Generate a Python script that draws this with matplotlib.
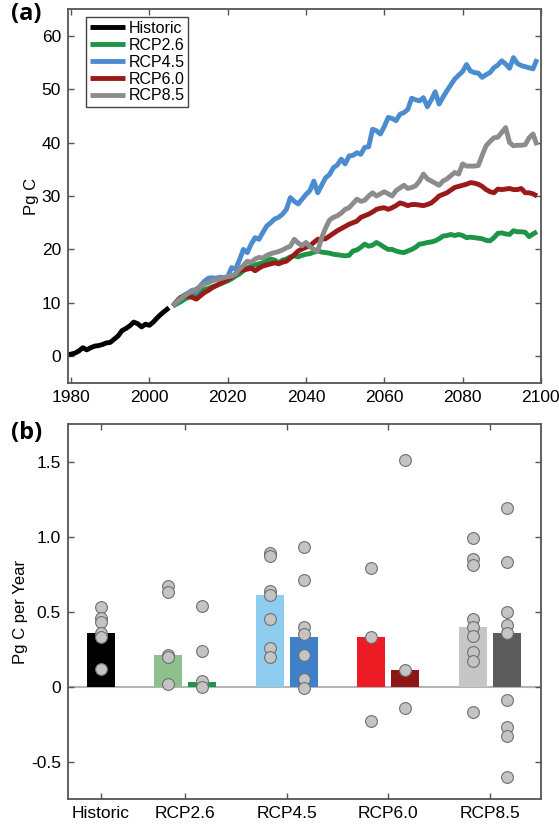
import numpy as np
import matplotlib
matplotlib.use("Agg")
import matplotlib.pyplot as plt

plt.rcParams['font.family'] = ['Liberation Sans', 'DejaVu Sans']

# ---- panel (a): cumulative carbon, Pg C ----
hist_start = 1979
historic = [0.3, 0.4, 0.6, 1.0, 1.6, 1.2, 1.6, 1.9, 2.0, 2.2, 2.5, 2.6, 3.2, 3.8,
            4.8, 5.2, 5.7, 6.4, 6.1, 5.5, 6.0, 5.8, 6.4, 7.2, 7.9, 8.5, 9.1]

rcp_start = 2006
rcp26 = [9.4, 9.8, 10.2, 10.7, 11.0, 11.3, 11.6, 12.0, 12.5, 12.7, 13.0, 13.2, 13.5, 13.8,
         14.1, 14.5, 15.0, 15.4, 16.0, 16.6, 16.9, 17.1, 17.3, 17.5, 17.9, 18.2, 18.0, 17.5,
         18.0, 18.2, 18.6, 18.8, 18.6, 18.9, 19.1, 19.2, 19.5, 19.7, 19.5, 19.4, 19.3, 19.1,
         19.0, 18.9, 18.8, 18.9, 19.7, 19.9, 20.4, 21.0, 20.6, 20.8, 21.3, 20.9, 20.4, 20.0,
         20.0, 19.7, 19.5, 19.4, 19.7, 20.0, 20.4, 21.0, 21.1, 21.3, 21.4, 21.6, 22.0, 22.5,
         22.6, 22.8, 22.6, 22.8, 22.6, 22.2, 22.3, 22.2, 22.1, 22.0, 21.7, 21.6, 22.2, 23.0,
         23.1, 22.9, 22.8, 23.5, 23.3, 23.3, 23.2, 22.4, 22.9, 23.3]
rcp45 = [9.4, 10.3, 11.0, 11.5, 11.9, 12.4, 12.0, 13.2, 14.0, 14.6, 14.7, 14.6, 14.8, 14.7,
         14.9, 16.6, 16.3, 18.0, 20.0, 19.4, 21.0, 22.2, 21.9, 23.2, 24.4, 25.0, 25.7, 26.0,
         26.6, 27.5, 29.7, 29.0, 28.5, 29.4, 30.3, 31.0, 32.8, 30.6, 32.0, 33.4, 34.0, 35.3,
         35.8, 36.9, 36.0, 37.5, 37.6, 38.1, 37.8, 39.1, 39.2, 42.5, 42.2, 41.6, 43.0, 44.7,
         44.5, 44.1, 45.3, 45.6, 46.2, 48.3, 48.0, 47.8, 48.4, 46.7, 48.0, 49.5, 47.2, 48.5,
         49.7, 50.8, 51.9, 52.6, 53.3, 54.6, 53.4, 53.1, 53.0, 52.2, 52.7, 53.1, 54.0, 54.5,
         55.3, 54.7, 53.9, 55.9, 54.8, 54.4, 54.2, 54.0, 53.8, 55.6]
rcp60 = [9.4, 10.3, 11.0, 11.2, 11.3, 11.0, 10.7, 11.3, 11.9, 12.3, 12.8, 13.2, 13.6, 14.0,
         14.4, 14.8, 15.4, 16.0, 16.2, 16.3, 16.5, 16.0, 16.5, 16.9, 17.1, 17.3, 17.5, 17.3,
         17.6, 17.8, 18.4, 19.0, 19.7, 20.1, 20.4, 20.7, 21.3, 21.9, 21.9, 22.0, 22.5, 23.0,
         23.5, 23.9, 24.3, 24.7, 25.0, 25.3, 26.0, 26.3, 26.6, 27.0, 27.5, 27.7, 27.8, 27.5,
         27.8, 28.2, 28.7, 28.5, 28.2, 28.4, 28.4, 28.3, 28.2, 28.4, 28.7, 29.3, 30.0, 30.3,
         30.6, 31.1, 31.6, 31.8, 32.0, 32.2, 32.5, 32.4, 32.2, 31.8, 31.2, 30.8, 30.6, 31.3,
         31.2, 31.3, 31.4, 31.2, 31.2, 31.4, 30.6, 30.6, 30.4, 30.0]
rcp85 = [9.4, 10.2, 10.8, 11.3, 11.8, 12.2, 12.6, 13.1, 13.5, 13.8, 14.1, 14.3, 14.5, 14.7,
         14.9, 15.0, 15.4, 16.3, 17.0, 17.8, 17.6, 18.2, 18.5, 18.4, 18.9, 19.2, 19.4, 19.6,
         19.9, 20.3, 20.6, 21.9, 21.2, 20.7, 21.3, 20.5, 20.0, 19.7, 22.2, 24.0, 25.5, 26.0,
         26.3, 26.8, 27.5, 27.8, 28.6, 29.4, 29.0, 29.2, 30.0, 30.6, 30.0, 30.4, 30.8, 30.4,
         30.0, 31.0, 31.5, 32.0, 31.4, 31.6, 31.9, 32.8, 34.1, 33.2, 32.8, 32.4, 32.0, 32.8,
         33.2, 33.8, 34.4, 34.1, 36.0, 35.6, 35.6, 35.6, 35.7, 37.6, 39.4, 40.2, 40.9, 41.0,
         41.9, 42.8, 40.0, 39.4, 39.5, 39.5, 39.6, 40.9, 41.6, 39.5]

# ---- panel (b): rate, Pg C per year ----
groups = ['Historic', 'RCP2.6', 'RCP4.5', 'RCP6.0', 'RCP8.5']
hist_bar = 0.36
hist_pts = [0.53, 0.46, 0.43, 0.36, 0.33, 0.12]
early_bars = [0.21, 0.61, 0.33, 0.40]
late_bars = [0.03, 0.33, 0.11, 0.36]
early_pts = [[0.67, 0.63, 0.21, 0.20, 0.02],
             [0.89, 0.87, 0.64, 0.61, 0.45, 0.26, 0.20],
             [0.79, 0.33, -0.23],
             [0.99, 0.85, 0.81, 0.45, 0.40, 0.34, 0.23, 0.17, -0.17]]
late_pts = [[0.54, 0.24, 0.04, 0.0],
            [0.93, 0.71, 0.40, 0.35, 0.21, 0.05, -0.01],
            [1.51, 0.11, -0.14],
            [1.19, 0.83, 0.50, 0.41, 0.36, -0.09, -0.27, -0.33, -0.60]]

line_colors = {'Historic': 'black', 'RCP2.6': '#1e9446', 'RCP4.5': '#4a8ccf',
               'RCP6.0': '#9a1a1a', 'RCP8.5': '#8c8c8c'}
light_cols = ['#8cc08c', '#8ecdf0', '#ed1c24', '#c6c6c6']
dark_cols = ['#1e9446', '#3f80c8', '#8e1616', '#5c5c5c']

fig = plt.figure(figsize=(5.59, 8.24), dpi=100)
ax1 = fig.add_axes([0.1216, 0.5352, 0.846, 0.4539])
ax2 = fig.add_axes([0.1216, 0.0303, 0.846, 0.4551])

lw = 3.5
ax1.plot(hist_start + np.arange(len(historic)), historic, color=line_colors['Historic'], lw=lw,
         label='Historic', solid_capstyle='butt')
for name, ser in [('RCP2.6', rcp26), ('RCP4.5', rcp45), ('RCP6.0', rcp60), ('RCP8.5', rcp85)]:
    ax1.plot(rcp_start + np.arange(len(ser)), ser, color=line_colors[name], lw=lw, label=name,
             solid_capstyle='butt')

ax1.set_xlim(1979.2, 2100)
ax1.set_ylim(-5, 65)
ax1.set_xticks(np.arange(1980, 2101, 20))
ax1.set_yticks(np.arange(0, 61, 10))
ax1.set_ylabel('Pg C', fontsize=12, labelpad=2)
leg = ax1.legend(loc='upper left', bbox_to_anchor=(0.038, 0.979), borderaxespad=0,
                 fontsize=11.5, handlelength=2.2, handletextpad=0.2, labelspacing=0.12,
                 borderpad=0.25, fancybox=False, framealpha=1)
leg.get_frame().set_edgecolor('#444444')
leg.get_frame().set_linewidth(1.0)
for h in leg.get_lines():
    h.set_linewidth(3.5)

# bar panel
centers = [1.0, 1.83, 2.83, 3.83, 4.83]
off = 0.167
width = 0.276
ax2.axhline(0, color='#b5b5b5', lw=1.5, zorder=1)
ax2.bar(centers[0], hist_bar, width=width, color='black', zorder=2)
mk = dict(marker='o', ms=8.5, mfc='#c4c4c4', mec='#6f6f6f', mew=0.8, ls='none', zorder=3)
ax2.plot([centers[0]] * len(hist_pts), hist_pts, **mk)
for i in range(4):
    xc = centers[i + 1]
    ax2.bar(xc - off, early_bars[i], width=width, color=light_cols[i], zorder=2)
    ax2.bar(xc + off, late_bars[i], width=width, color=dark_cols[i], zorder=2)
    ax2.plot([xc - off] * len(early_pts[i]), early_pts[i], **mk)
    ax2.plot([xc + off] * len(late_pts[i]), late_pts[i], **mk)

ax2.set_xlim(0.675, 5.335)
ax2.set_ylim(-0.75, 1.75)
ax2.set_xticks(centers)
ax2.set_xticklabels(groups)
ax2.set_yticks([-0.5, 0, 0.5, 1.0, 1.5])
ax2.set_yticklabels(['-0.5', '0', '0.5', '1.0', '1.5'])
ax2.set_ylabel('Pg C per Year', fontsize=12, labelpad=2)

for ax in (ax1, ax2):
    for sp in ax.spines.values():
        sp.set_color('#555555')
        sp.set_linewidth(1.3)
    ax.tick_params(direction='in', top=True, right=True, length=4, width=1.0,
                   color='#555555', labelsize=12.5, pad=5)

fig.text(0.02, 0.997, '(a)', fontsize=17, fontweight='bold', va='top', ha='left',
         family=['Open Sans', 'DejaVu Sans'])
fig.text(0.02, 0.489, '(b)', fontsize=17, fontweight='bold', va='top', ha='left',
         family=['Open Sans', 'DejaVu Sans'])

fig.savefig('out.png', dpi=100)
